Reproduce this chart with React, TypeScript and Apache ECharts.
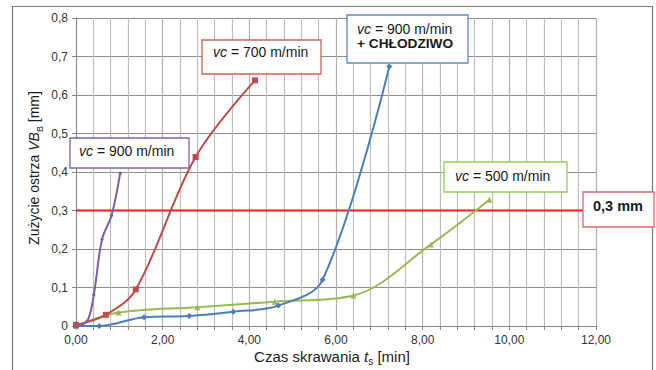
import React, { useEffect, useRef } from "react";
import * as echarts from "echarts";

const xTicksMax = 12;
const yTicksMax = 0.8;

const purpleX = [0, 0.26, 0.41, 0.6, 0.82, 1.02];
const purpleY = [0, 0.013, 0.081, 0.225, 0.287, 0.397];

const redX = [0, 0.69, 1.38, 2.76, 4.13];
const redY = [0.003, 0.029, 0.095, 0.439, 0.638];

const blueX = [0, 0.54, 1.57, 2.61, 3.63, 4.67, 5.69, 7.23];
const blueY = [0, 0, 0.023, 0.026, 0.037, 0.053, 0.12, 0.674];

const greenX = [0, 0.98, 2.8, 4.59, 6.4, 8.19, 9.54];
const greenY = [0, 0.035, 0.049, 0.063, 0.079, 0.212, 0.328];

const limitX = [0, 12];
const limitY = [0.3, 0.3];

const zip = (xs: number[], ys: number[]) => xs.map((x, i) => [x, ys[i]]);

const FONT = "'Liberation Sans', Arial, sans-serif";

export default function App() {
  const ref = useRef<HTMLDivElement>(null);
  useEffect(() => {
    if (!ref.current) return;
    const chart = echarts.init(ref.current, null, { renderer: "svg" });
    const boxText = (
      x: number,
      y: number,
      w: number,
      h: number,
      color: string,
      text: string,
      tx: number,
      ty: number
    ) => ({
      type: "group",
      z: 100,
      children: [
        {
          type: "rect",
          shape: { x, y, width: w, height: h },
          style: { fill: "#fff", stroke: color, lineWidth: 1.3 },
          z: 100,
        },
        {
          type: "text",
          x: tx,
          y: ty,
          z: 101,
          style: {
            text,
            fill: "#1a1a1a",
            align: "left",
            verticalAlign: "middle",
            rich: {
              i: { fontFamily: FONT, fontSize: 14, fontStyle: "italic", fill: "#1a1a1a", lineHeight: 15 },
              n: { fontFamily: FONT, fontSize: 14, fill: "#1a1a1a", lineHeight: 15 },
              b: { fontFamily: FONT, fontSize: 13.7, fontWeight: "bold", fill: "#1a1a1a", lineHeight: 15 },
            },
          },
        },
      ],
    });
    const option = {
      animation: false,
      backgroundColor: "#fff",
      grid: { left: 76, top: 18, width: 520, height: 308 },
      xAxis: {
        type: "value",
        min: 0,
        max: xTicksMax,
        interval: 2,
        axisLine: { show: true, lineStyle: { color: "#868686", width: 1 } },
        axisTick: { show: true, length: 4, lineStyle: { color: "#868686" } },
        minorTick: { show: true, splitNumber: 5, length: 4, lineStyle: { color: "#868686" } },
        splitLine: { show: true, lineStyle: { color: "#b0b0b0", width: 1.2 } },
        minorSplitLine: { show: true, lineStyle: { color: "#bdbdbd", width: 1.2 } },
        axisLabel: {
          margin: 8,
          fontFamily: FONT,
          fontSize: 12,
          color: "#333",
          formatter: (v: number) => v.toFixed(2).replace(".", ","),
        },
      },
      yAxis: {
        type: "value",
        min: 0,
        max: yTicksMax,
        interval: 0.1,
        axisLine: { show: true, lineStyle: { color: "#868686", width: 1 } },
        axisTick: { show: true, length: 4, lineStyle: { color: "#868686" } },
        splitLine: { show: true, lineStyle: { color: "#8c8c8c", width: 1 } },
        axisLabel: {
          margin: 8,
          fontFamily: FONT,
          fontSize: 12,
          color: "#333",
          formatter: (v: number) => (v === 0 ? "0" : v.toFixed(1).replace(".", ",")),
        },
      },
      series: [
        {
          name: "limit",
          type: "line",
          data: zip(limitX, limitY),
          symbol: "none",
          lineStyle: { color: "#ff1a1a", width: 2 },
          z: 2,
        },
        {
          name: "vc500",
          type: "line",
          data: zip(greenX, greenY),
          smooth: 0.35,
          symbol: "triangle",
          symbolSize: 6,
          lineStyle: { color: "#98b954", width: 2 },
          itemStyle: { color: "#98b954" },
          z: 3,
        },
        {
          name: "vc900c",
          type: "line",
          data: zip(blueX, blueY),
          smooth: 0.35,
          symbol: "diamond",
          symbolSize: 6,
          lineStyle: { color: "#4a7ebb", width: 2 },
          itemStyle: { color: "#4a7ebb" },
          z: 4,
        },
        {
          name: "vc700",
          type: "line",
          data: zip(redX, redY),
          smooth: 0.35,
          symbol: "rect",
          symbolSize: 6,
          lineStyle: { color: "#be4b48", width: 2 },
          itemStyle: { color: "#be4b48" },
          z: 5,
        },
        {
          name: "vc900",
          type: "line",
          data: zip(purpleX, purpleY),
          smooth: 0.35,
          symbol: "diamond",
          symbolSize: 4,
          lineStyle: { color: "#7d5fa6", width: 2 },
          itemStyle: { color: "#7d5fa6" },
          z: 6,
        },
      ],
      graphic: [
        {
          type: "rect",
          z: 90,
          shape: { x: 12.5, y: 6.5, width: 640, height: 380 },
          style: { fill: "none", stroke: "#7a7a7a", lineWidth: 1.2 },
        },
        {
          type: "text",
          x: 332,
          y: 356,
          z: 100,
          style: {
            text: "{n|Czas skrawania }{i|t}{s|s}{n| [min]}",
            align: "center",
            verticalAlign: "middle",
            rich: {
              n: { fontFamily: FONT, fontSize: 15, fill: "#1a1a1a", lineHeight: 17 },
              i: { fontFamily: FONT, fontSize: 15, fontStyle: "italic", fill: "#1a1a1a", lineHeight: 17 },
              s: { fontFamily: FONT, fontSize: 10, fill: "#1a1a1a", verticalAlign: "bottom", lineHeight: 21 },
            },
          },
        },
        {
          type: "text",
          x: 34,
          y: 168,
          rotation: Math.PI / 2,
          z: 100,
          style: {
            text: "{n|Zużycie ostrza }{i|VB}{s|B}{n| [mm]}",
            align: "center",
            verticalAlign: "middle",
            rich: {
              n: { fontFamily: FONT, fontSize: 14, fill: "#1a1a1a", lineHeight: 16 },
              i: { fontFamily: FONT, fontSize: 14, fontStyle: "italic", fill: "#1a1a1a", lineHeight: 16 },
              s: { fontFamily: FONT, fontSize: 9, fill: "#1a1a1a", verticalAlign: "bottom", lineHeight: 20 },
            },
          },
        },
        boxText(202, 40, 119, 34, "#d0605d", "{i|vc}{n| = 700 m/min}", 213, 52),
        boxText(70, 138, 119, 30, "#8064a2", "{i|vc}{n| = 900 m/min}", 79, 151),
        boxText(347, 15, 121, 48, "#5a8ac6", "{i|vc}{n| = 900 m/min}\n{b|+ CHŁODZIWO}", 357, 36),
        boxText(444, 162, 123, 30, "#92d050", "{i|vc}{n| = 500 m/min}", 455, 176),
        {
          type: "group",
          z: 100,
          children: [
            {
              type: "rect",
              z: 100,
              shape: { x: 583, y: 192, width: 71, height: 35 },
              style: { fill: "#fff", stroke: "#e0666a", lineWidth: 1.3 },
            },
            {
              type: "text",
              x: 618,
              y: 206,
              z: 101,
              style: {
                text: "0,3 mm",
                fontFamily: FONT,
                fontSize: 14.5,
                fontWeight: "bold",
                fill: "#1a1a1a",
                align: "center",
                verticalAlign: "middle",
              },
            },
          ],
        },
      ],
    };
    chart.setOption(option as any);
    return () => chart.dispose();
  }, []);
  return (
    <div
      ref={ref}
      style={{ position: "fixed", left: 0, top: 0, width: 656, height: 370 }}
    />
  );
}
